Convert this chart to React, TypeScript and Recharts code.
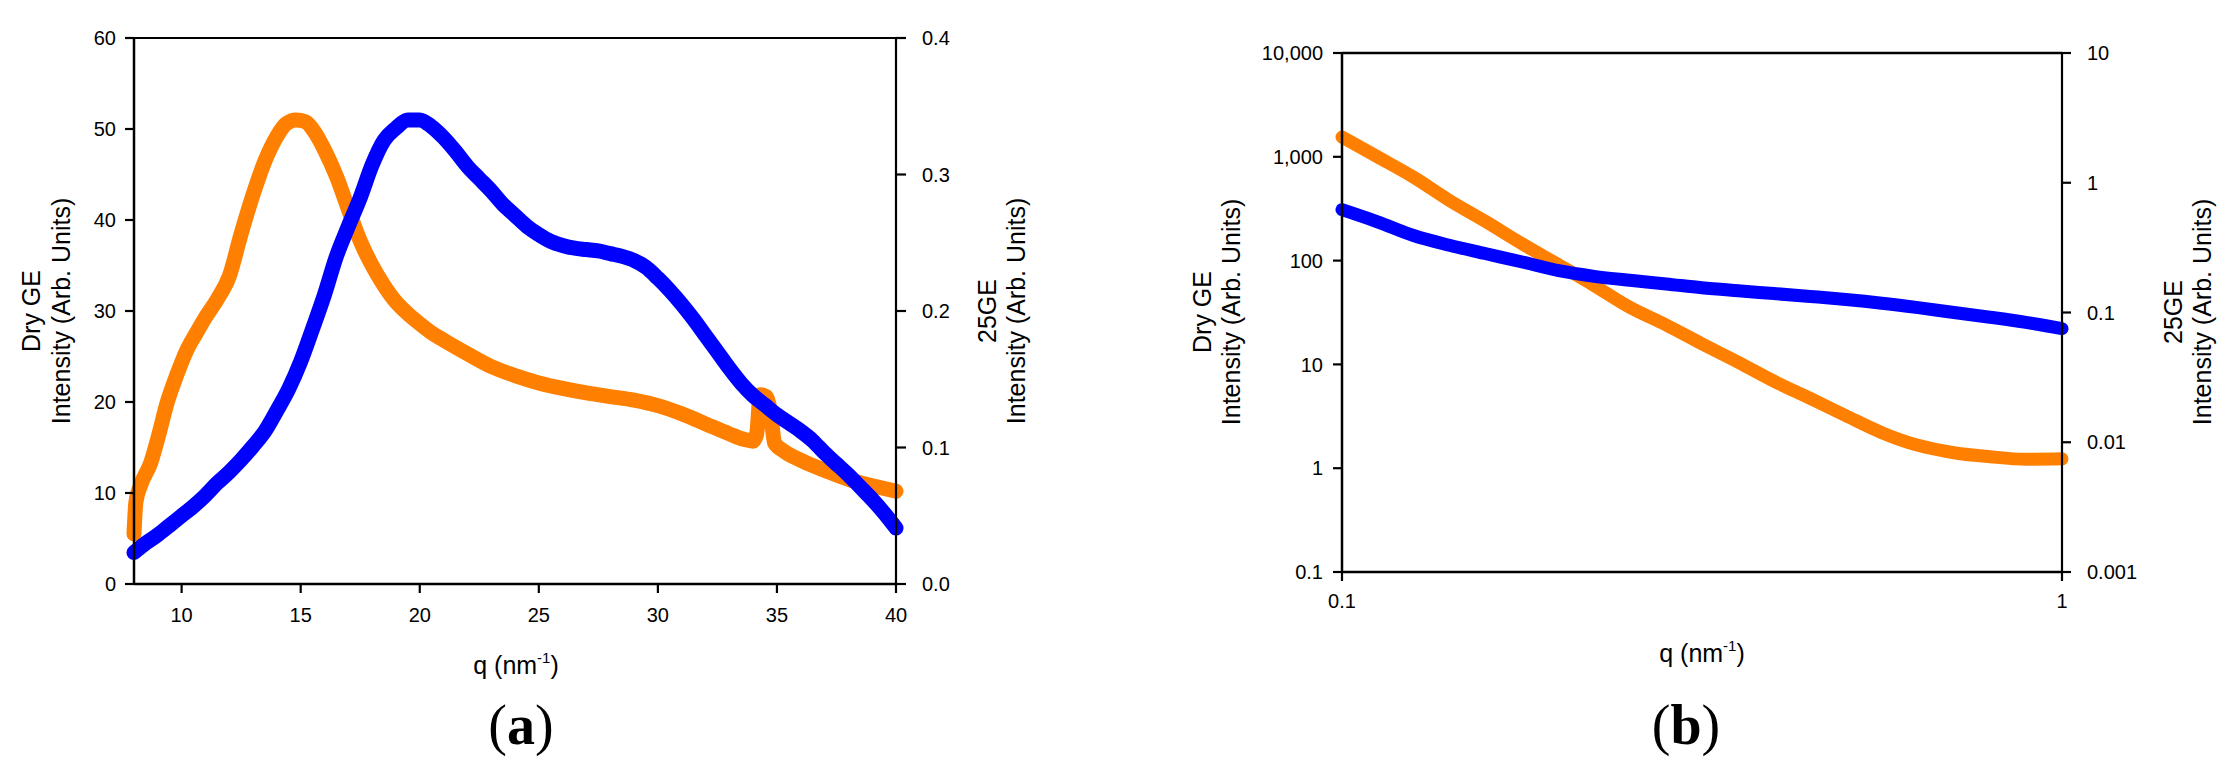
import React from 'react';
import { LineChart, Line, XAxis, YAxis, ReferenceLine } from 'recharts';

// ---------- Panel (a): linear axes ----------
const dryGeQa = [8.0, 8.08, 8.3, 8.7, 9.0, 9.4, 9.8, 10.2, 10.6, 11.0, 11.5, 12.0, 12.5, 13.0, 13.5, 14.0, 14.4, 14.8, 15.2, 15.6, 16.0, 16.5, 17.0, 17.5, 18.0, 18.5, 19.0, 19.5, 20.0, 20.5, 21.0, 22.0, 23.0, 24.0, 25.0, 26.0, 27.0, 28.0, 29.0, 30.0, 31.0, 32.0, 33.0, 33.6, 34.0, 34.15, 34.3, 34.55, 34.75, 34.9, 35.3, 36.0, 37.0, 38.0, 39.0, 40.0];
const dryGeIa = [5.5, 9.0, 11.0, 13.3, 16.0, 20.0, 23.0, 25.6, 27.5, 29.3, 31.3, 33.8, 38.5, 42.8, 46.5, 49.2, 50.6, 51.0, 50.8, 49.6, 47.7, 44.8, 41.2, 37.7, 35.0, 32.8, 31.0, 29.7, 28.6, 27.6, 26.8, 25.3, 23.9, 22.9, 22.1, 21.5, 21.0, 20.6, 20.2, 19.6, 18.7, 17.6, 16.5, 15.9, 15.7, 16.5, 20.8, 20.6, 18.5, 15.5, 14.6, 13.6, 12.5, 11.5, 10.8, 10.2];

const ge25Qa = [8.0, 8.5, 9.0, 9.5, 10.0, 10.5, 11.0, 11.5, 12.0, 12.5, 13.0, 13.5, 14.0, 14.5, 15.0, 15.5, 16.0, 16.5, 17.0, 17.5, 18.0, 18.5, 19.0, 19.5, 20.0, 20.5, 21.0, 21.5, 22.0, 22.5, 23.0, 23.5, 24.0, 24.5, 25.0, 25.5, 26.0, 26.5, 27.0, 27.5, 28.0, 28.5, 29.0, 29.5, 30.0, 30.5, 31.0, 31.5, 32.0, 32.5, 33.0, 33.5, 34.0, 34.5, 35.0, 35.5, 36.0, 36.5, 37.0, 37.5, 38.0, 38.5, 39.0, 39.5, 40.0];
const ge25Ia = [0.023, 0.030, 0.036, 0.043, 0.050, 0.057, 0.065, 0.074, 0.082, 0.091, 0.101, 0.112, 0.127, 0.143, 0.163, 0.187, 0.212, 0.240, 0.262, 0.283, 0.307, 0.325, 0.334, 0.340, 0.340, 0.335, 0.327, 0.317, 0.306, 0.297, 0.288, 0.278, 0.270, 0.262, 0.256, 0.251, 0.248, 0.246, 0.245, 0.244, 0.242, 0.240, 0.237, 0.232, 0.224, 0.215, 0.205, 0.194, 0.182, 0.170, 0.158, 0.147, 0.138, 0.131, 0.124, 0.118, 0.112, 0.105, 0.096, 0.088, 0.080, 0.071, 0.062, 0.052, 0.041];

const xTicksA = [10, 15, 20, 25, 30, 35, 40];
const leftTicksA = [0, 10, 20, 30, 40, 50, 60];
const rightTicksA = [0, 0.1, 0.2, 0.3, 0.4];
const rightLabelsA = ['0.0', '0.1', '0.2', '0.3', '0.4'];

// ---------- Panel (b): log axes ----------
const qB = [0.1, 0.112, 0.126, 0.141, 0.158, 0.178, 0.2, 0.224, 0.251, 0.282, 0.316, 0.355, 0.398, 0.447, 0.501, 0.562, 0.631, 0.708, 0.794, 0.891, 1.0];
const dryGeIb = [1550, 1000, 630, 380, 240, 145, 91, 57.5, 35.5, 24, 15.8, 10.5, 6.9, 4.7, 3.2, 2.2, 1.66, 1.41, 1.29, 1.22, 1.23];
const ge25Ib = [0.62, 0.50, 0.39, 0.33, 0.285, 0.245, 0.21, 0.19, 0.177, 0.166, 0.155, 0.147, 0.140, 0.133, 0.126, 0.118, 0.109, 0.100, 0.092, 0.084, 0.075];

const xTicksB = [0.1, 1];
const leftTicksB = [0.1, 1, 10, 100, 1000, 10000];
const leftLabelsB = ['0.1', '1', '10', '100', '1,000', '10,000'];
const rightTicksB = [0.001, 0.01, 0.1, 1, 10];
const rightLabelsB = ['0.001', '0.01', '0.1', '1', '10'];

const ORANGE = '#FF8000';
const BLUE = '#0000FF';
const FONT = '"Liberation Sans", Arial, sans-serif';

const toRows = (qs: number[], vs: number[]) => qs.map((q, i) => ({ q, v: vs[i] }));

const dryA = toRows(dryGeQa, dryGeIa);
const wetA = toRows(ge25Qa, ge25Ia);
const dryB = toRows(qB, dryGeIb);
const wetB = toRows(qB, ge25Ib);

const tickStyle = { fill: '#000', fontSize: 20, fontFamily: FONT };
const axisLine = { stroke: '#000', strokeWidth: 2.5 };
const tickLine = { stroke: '#000', strokeWidth: 2.2 };

function YTitle({ x1, x2, cy, l1 }: { x1: number; x2: number; cy: number; l1: string }) {
  return (
    <g fontFamily={FONT} fontSize={25} fill="#000" textAnchor="middle">
      <text transform={`translate(${x1},${cy}) rotate(-90)`}>{l1}</text>
      <text transform={`translate(${x2},${cy}) rotate(-90)`}>Intensity (Arb. Units)</text>
    </g>
  );
}

function XTitle({ cx, y }: { cx: number; y: number }) {
  return (
    <text x={cx} y={y} fontFamily={FONT} fontSize={25} fill="#000" textAnchor="middle">
      <tspan>q (nm</tspan>
      <tspan dy={-11} fontSize={15}>-1</tspan>
      <tspan dy={11}>)</tspan>
    </text>
  );
}

function Panel({ cx, y, letter }: { cx: number; y: number; letter: string }) {
  return (
    <text x={cx} y={y} fontFamily='"Liberation Serif", "Times New Roman", serif' fontSize={56} fill="#000" textAnchor="middle">
      <tspan>(</tspan>
      <tspan fontWeight="bold">{letter}</tspan>
      <tspan>)</tspan>
    </text>
  );
}

export default function App() {
  return (
    <div style={{ position: 'absolute', left: 0, top: 0, width: 2230, height: 771, background: '#fff', overflow: 'hidden' }}>
      <div style={{ position: 'absolute', left: 0, top: 0 }}>
        <LineChart width={1100} height={771} margin={{ top: 38, left: 74, right: 144, bottom: 157 }}>
          <XAxis
            dataKey="q"
            type="number"
            domain={[8, 40]}
            ticks={xTicksA}
            height={30}
            tickSize={9}
            tickMargin={15}
            axisLine={axisLine}
            tickLine={tickLine}
            tick={tickStyle}
          />
          <YAxis
            yAxisId="left"
            orientation="left"
            type="number"
            domain={[0, 60]}
            ticks={leftTicksA}
            width={60}
            tickSize={9}
            tickMargin={9}
            axisLine={axisLine}
            tickLine={tickLine}
            tick={tickStyle}
          />
          <YAxis
            yAxisId="right"
            orientation="right"
            type="number"
            domain={[0, 0.4]}
            ticks={rightTicksA}
            tickFormatter={(_v: number, i: number) => rightLabelsA[i]}
            width={60}
            tickSize={10}
            tickMargin={16}
            axisLine={{ stroke: '#000', strokeWidth: 2.2 }}
            tickLine={tickLine}
            tick={tickStyle}
          />
          <ReferenceLine yAxisId="left" y={60} stroke="#000" strokeWidth={2} />
          <Line
            data={dryA}
            dataKey="v"
            yAxisId="left"
            type="monotone"
            stroke={ORANGE}
            strokeWidth={15}
            strokeLinecap="round"
            strokeLinejoin="round"
            dot={false}
            activeDot={false}
            isAnimationActive={false}
          />
          <Line
            data={wetA}
            dataKey="v"
            yAxisId="right"
            type="monotone"
            stroke={BLUE}
            strokeWidth={15}
            strokeLinecap="round"
            strokeLinejoin="round"
            dot={false}
            activeDot={false}
            isAnimationActive={false}
          />
        </LineChart>
      </div>

      <div style={{ position: 'absolute', left: 1150, top: 0 }}>
        <LineChart width={1080} height={771} margin={{ top: 53, left: 132, right: 108, bottom: 169 }}>
          <XAxis
            dataKey="q"
            type="number"
            scale="log"
            domain={[0.1, 1]}
            ticks={xTicksB}
            tickFormatter={(v: number) => String(v)}
            height={30}
            tickSize={9}
            tickMargin={13}
            axisLine={axisLine}
            tickLine={tickLine}
            tick={tickStyle}
          />
          <YAxis
            yAxisId="left"
            orientation="left"
            type="number"
            scale="log"
            domain={[0.1, 10000]}
            ticks={leftTicksB}
            tickFormatter={(_v: number, i: number) => leftLabelsB[i]}
            width={60}
            tickSize={9}
            tickMargin={10}
            axisLine={axisLine}
            tickLine={tickLine}
            tick={tickStyle}
          />
          <YAxis
            yAxisId="right"
            orientation="right"
            type="number"
            scale="log"
            domain={[0.001, 10]}
            ticks={rightTicksB}
            tickFormatter={(_v: number, i: number) => rightLabelsB[i]}
            width={60}
            tickSize={9}
            tickMargin={16}
            axisLine={{ stroke: '#000', strokeWidth: 2.2 }}
            tickLine={tickLine}
            tick={tickStyle}
          />
          <ReferenceLine yAxisId="left" y={10000} stroke="#000" strokeWidth={2.5} />
          <Line
            data={dryB}
            dataKey="v"
            yAxisId="left"
            type="monotone"
            stroke={ORANGE}
            strokeWidth={13}
            strokeLinecap="round"
            strokeLinejoin="round"
            dot={false}
            activeDot={false}
            isAnimationActive={false}
          />
          <Line
            data={wetB}
            dataKey="v"
            yAxisId="right"
            type="monotone"
            stroke={BLUE}
            strokeWidth={13}
            strokeLinecap="round"
            strokeLinejoin="round"
            dot={false}
            activeDot={false}
            isAnimationActive={false}
          />
        </LineChart>
      </div>

      <svg width={2230} height={771} style={{ position: 'absolute', left: 0, top: 0, pointerEvents: 'none' }}>
        <YTitle x1={40} x2={70} cy={311} l1="Dry GE" />
        <YTitle x1={996} x2={1025} cy={311} l1="25GE" />
        <YTitle x1={1211} x2={1240} cy={312} l1="Dry GE" />
        <YTitle x1={2182} x2={2211} cy={312} l1="25GE" />
        <XTitle cx={516} y={674} />
        <XTitle cx={1702} y={662} />
        <Panel cx={521} y={744} letter="a" />
        <Panel cx={1686} y={744} letter="b" />
      </svg>
    </div>
  );
}
